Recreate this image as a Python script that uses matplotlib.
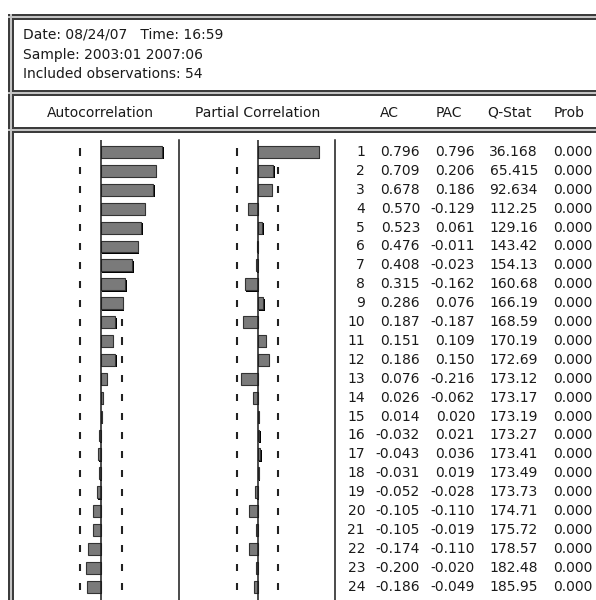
import numpy as np
import matplotlib.pyplot as plt
from matplotlib import patheffects

# correlogram values (EViews output)
LAGS = [1, 2, 3, 4, 5, 6, 7, 8, 9, 10, 11, 12,
        13, 14, 15, 16, 17, 18, 19, 20, 21, 22, 23, 24]
AC = [0.796, 0.709, 0.678, 0.570, 0.523, 0.476, 0.408, 0.315, 0.286, 0.187, 0.151, 0.186,
      0.076, 0.026, 0.014, -0.032, -0.043, -0.031, -0.052, -0.105, -0.105, -0.174, -0.200, -0.186]
PAC = [0.796, 0.206, 0.186, -0.129, 0.061, -0.011, -0.023, -0.162, 0.076, -0.187, 0.109, 0.150,
       -0.216, -0.062, 0.020, 0.021, 0.036, 0.019, -0.028, -0.110, -0.019, -0.110, -0.020, -0.049]
Q_STAT = [36.168, 65.415, 92.634, 112.25, 129.16, 143.42, 154.13, 160.68, 166.19, 168.59, 170.19, 172.69,
          173.12, 173.17, 173.19, 173.27, 173.41, 173.49, 173.73, 174.71, 175.72, 178.57, 182.48, 185.95]
PROB = [0.000, 0.000, 0.000, 0.000, 0.000, 0.000, 0.000, 0.000, 0.000, 0.000, 0.000, 0.000,
        0.000, 0.000, 0.000, 0.000, 0.000, 0.000, 0.000, 0.000, 0.000, 0.000, 0.000, 0.000]
N_OBS = 54

HEADER_LINES = ['Date: 08/24/07   Time: 16:59',
                'Sample: 2003:01 2007:06',
                'Included observations: 54']
PANEL_TITLES = ['Autocorrelation', 'Partial Correlation']
TABLE_TITLES = ['AC', 'PAC', 'Q-Stat', 'Prob']

# layout, in pixels of the 596x600 picture
W, H = 596, 600
ROW_TOP = 140
ROW1_Y = 152
ROW_STEP = 18.9
PX_PER_UNIT = 77
BAR_COLOR = '#7a7a7a'
LINE_COLOR = '#1a1a1a'
TEXT_COLOR = '#1a1a1a'
FONT = 'DejaVu Sans'
FONT_SIZE = 10.0

plt.rcParams['font.family'] = [FONT]


def px_axes(fig, x0, x1, y0, y1):
    ax = fig.add_axes([x0 / W, 1 - y1 / H, (x1 - x0) / W, (y1 - y0) / H])
    ax.set_axis_off()
    return ax


def lag_limits():
    top = 1 + (ROW_TOP - ROW1_Y) / ROW_STEP
    bottom = 1 + (H - ROW1_Y) / ROW_STEP
    return bottom, top


def double_line(ax, xs, ys):
    ax.plot(xs, ys, color='#3c3c3c', lw=6 * 0.72, solid_capstyle='butt', zorder=2)
    ax.plot(xs, ys, color='#c4c4c4', lw=2 * 0.72, solid_capstyle='butt', zorder=3)


def corr_panel(fig, x0, x1, zero_px, values):
    ax = px_axes(fig, x0, x1, ROW_TOP, H)
    ax.set_xlim((x0 - zero_px) / PX_PER_UNIT, (x1 - zero_px) / PX_PER_UNIT)
    ax.set_ylim(*lag_limits())

    band = 2 / np.sqrt(N_OBS)
    lags = np.array(LAGS)
    # dashes sit behind the bars, like in EViews
    for b in (-band, band):
        ax.vlines(np.full(len(lags), b), lags - 0.19, lags + 0.19, color='#222222', lw=1.5, zorder=1)
    shadow = [patheffects.SimplePatchShadow(offset=(1.0, -1.0), shadow_rgbFace='black', alpha=1.0),
              patheffects.Normal()]
    ax.barh(lags, values, height=0.63, left=0, color=BAR_COLOR, edgecolor='#333333',
            linewidth=0.8, path_effects=shadow, zorder=2)
    ax.axvline(0, color=LINE_COLOR, lw=1.1, zorder=3)
    return ax


def main():
    fig = plt.figure(figsize=(W / 100, H / 100), dpi=100)
    fig.patch.set_facecolor('white')

    frame = px_axes(fig, 0, W, 0, H)
    frame.set_xlim(0, W)
    frame.set_ylim(H, 0)

    # outer frame and the two separators
    double_line(frame, [11, 11], [14, H])
    for y in (17, 92.5, 130):
        double_line(frame, [8, W], [y, y])
    for x in (179, 335):
        frame.plot([x, x], [ROW_TOP, H], color=LINE_COLOR, lw=1.1, zorder=2)

    for i, line in enumerate(HEADER_LINES):
        frame.text(23, 35 + i * 19.5, line, ha='left', va='center',
                   fontsize=FONT_SIZE, color=TEXT_COLOR)

    for x, title in zip([100, 258], PANEL_TITLES):
        frame.text(x, 113, title, ha='center', va='center', fontsize=FONT_SIZE, color=TEXT_COLOR)
    for x, title in zip([389, 449, 510, 569], TABLE_TITLES):
        frame.text(x, 113, title, ha='center', va='center', fontsize=FONT_SIZE, color=TEXT_COLOR)

    corr_panel(fig, 14, 179, 101, AC)
    corr_panel(fig, 179, 335, 257.5, PAC)

    table = px_axes(fig, 335, W, ROW_TOP, H)
    table.set_xlim(335, W)
    table.set_ylim(*lag_limits())
    for lag, ac, pac, q, p in zip(LAGS, AC, PAC, Q_STAT, PROB):
        q_dec = 5 - len(str(int(q)))
        cells = [str(lag), f'{ac:.3f}', f'{pac:.3f}', f'{q:.{q_dec}f}', f'{p:.3f}']
        for x, cell in zip([365, 420, 475, 538, 593], cells):
            table.text(x, lag, cell, ha='right', va='center',
                       fontsize=FONT_SIZE, color=TEXT_COLOR)

    fig.savefig('out.png', dpi=100)
    plt.close(fig)


if __name__ == '__main__':
    main()
